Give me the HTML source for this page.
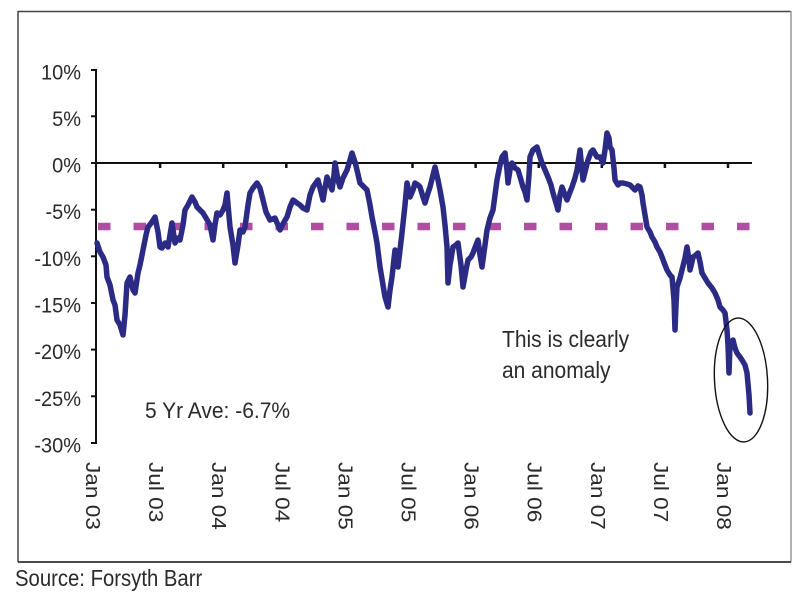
<!DOCTYPE html>
<html>
<head>
<meta charset="utf-8">
<style>
html,body{margin:0;padding:0;background:#fff;}
svg{display:block;}
text{font-family:"Liberation Sans",Arial,sans-serif;fill:#2a2a2a;}
</style>
</head>
<body>
<svg width="800" height="598" viewBox="0 0 800 598" xmlns="http://www.w3.org/2000/svg">
<rect x="0" y="0" width="800" height="598" fill="#fff"/>
<!-- frame -->
<line x1="18" y1="11.5" x2="791" y2="11.5" stroke="#444" stroke-width="1.5"/>
<line x1="18" y1="11" x2="18" y2="562" stroke="#444" stroke-width="1.5"/>
<line x1="791" y1="11" x2="791" y2="562" stroke="#999" stroke-width="1.5"/>
<line x1="18" y1="562" x2="791" y2="562" stroke="#333" stroke-width="1.8"/>

<!-- y axis -->
<line x1="96" y1="69" x2="96" y2="444" stroke="#111" stroke-width="2"/>
<g stroke="#111" stroke-width="2">
<line x1="91" y1="70" x2="96" y2="70"/>
<line x1="91" y1="116.3" x2="96" y2="116.3"/>
<line x1="91" y1="163" x2="96" y2="163"/>
<line x1="91" y1="209.7" x2="96" y2="209.7"/>
<line x1="91" y1="256.3" x2="96" y2="256.3"/>
<line x1="91" y1="303" x2="96" y2="303"/>
<line x1="91" y1="349.6" x2="96" y2="349.6"/>
<line x1="91" y1="396.3" x2="96" y2="396.3"/>
<line x1="91" y1="443" x2="96" y2="443"/>
</g>
<g font-size="20" text-anchor="end">
<text transform="translate(81,79.5) scale(1,1.06)">10%</text>
<text transform="translate(81,125.8) scale(1,1.06)">5%</text>
<text transform="translate(81,172.5) scale(1,1.06)">0%</text>
<text transform="translate(81,219.2) scale(1,1.06)">-5%</text>
<text transform="translate(81,265.8) scale(1,1.06)">-10%</text>
<text transform="translate(81,312.5) scale(1,1.06)">-15%</text>
<text transform="translate(81,359.1) scale(1,1.06)">-20%</text>
<text transform="translate(81,405.8) scale(1,1.06)">-25%</text>
<text transform="translate(81,452.5) scale(1,1.06)">-30%</text>
</g>

<!-- zero line -->
<line x1="96" y1="163" x2="752" y2="163" stroke="#111" stroke-width="2"/>
<g stroke="#111" stroke-width="2.5">
<line x1="160.1" y1="163" x2="160.1" y2="168"/>
<line x1="223.2" y1="163" x2="223.2" y2="168"/>
<line x1="286.3" y1="163" x2="286.3" y2="168"/>
<line x1="349.4" y1="163" x2="349.4" y2="168"/>
<line x1="412.5" y1="163" x2="412.5" y2="168"/>
<line x1="475.6" y1="163" x2="475.6" y2="168"/>
<line x1="538.7" y1="163" x2="538.7" y2="168"/>
<line x1="601.8" y1="163" x2="601.8" y2="168"/>
<line x1="664.9" y1="163" x2="664.9" y2="168"/>
<line x1="728" y1="163" x2="728" y2="168"/>
</g>

<!-- x labels rotated -->
<g font-size="20">
<text transform="translate(86,462) rotate(90) scale(1.13,1)">Jan 03</text>
<text transform="translate(149.1,462) rotate(90) scale(1.13,1)">Jul 03</text>
<text transform="translate(212.2,462) rotate(90) scale(1.13,1)">Jan 04</text>
<text transform="translate(275.3,462) rotate(90) scale(1.13,1)">Jul 04</text>
<text transform="translate(338.4,462) rotate(90) scale(1.13,1)">Jan 05</text>
<text transform="translate(401.5,462) rotate(90) scale(1.13,1)">Jul 05</text>
<text transform="translate(464.6,462) rotate(90) scale(1.13,1)">Jan 06</text>
<text transform="translate(527.7,462) rotate(90) scale(1.13,1)">Jul 06</text>
<text transform="translate(590.8,462) rotate(90) scale(1.13,1)">Jan 07</text>
<text transform="translate(653.9,462) rotate(90) scale(1.13,1)">Jul 07</text>
<text transform="translate(717,462) rotate(90) scale(1.13,1)">Jan 08</text>
</g>

<!-- average dashed line -->
<line x1="98" y1="226.5" x2="750" y2="226.5" stroke="#b04ea4" stroke-width="7.5" stroke-dasharray="12.5 23"/>

<!-- series -->
<polyline fill="none" stroke="#2b2b85" stroke-width="5.5" stroke-linejoin="round" stroke-linecap="round" points="
97,243 100,252 103,257 106,265 107,277 110,285 113,300 115,305 117,320 120,325 123,335 125,315 127,283 130,277 133,290 135,293 138,273 140,265 143,250 146,235 148,227 152,222 155,217 158,232 160,247 162,248 165,243 168,247 170,235 172,223 175,243 178,238 180,240 183,225 185,210 188,205 192,197 195,202 197,207 200,210 203,213 206,218 210,225 213,240 215,225 217,213 220,215 223,210 225,205 227,193 230,227 233,245 235,263 238,245 240,230 243,232 245,227 248,205 250,193 253,188 257,183 260,188 263,200 266,212 270,220 275,218 280,230 284,222 287,217 290,207 293,200 297,203 300,205 303,208 307,210 310,195 313,187 318,180 321,192 323,200 325,188 327,177 330,185 332,190 334,175 335,163 338,180 340,187 343,178 347,170 350,160 352,153 355,162 357,170 360,183 363,186 367,190 370,205 372,217 375,232 377,243 380,267 383,285 385,297 388,307 390,290 392,277 395,250 398,267 400,250 402,233 405,205 407,183 410,197 413,190 415,183 418,185 420,187 423,197 425,203 428,193 430,187 433,175 435,167 438,180 440,190 443,207 445,225 447,247 448,283 450,265 453,247 456,245 458,243 461,265 463,287 466,270 468,260 471,257 473,253 476,245 478,240 480,255 482,267 485,245 487,230 490,218 493,210 495,195 497,180 500,165 502,157 505,153 507,170 508,183 510,170 512,163 515,168 518,170 521,180 523,187 525,192 527,200 529,175 530,157 533,150 537,147 540,157 542,163 545,170 548,177 551,185 553,193 556,203 558,210 560,195 562,187 565,195 567,200 570,192 572,187 575,178 577,170 580,150 583,180 586,168 588,160 591,152 593,150 597,157 600,157 603,163 605,150 607,133 609,138 610,147 612,150 614,168 615,180 618,185 620,183 623,183 627,184 630,185 633,188 635,190 638,186 640,187 642,195 643,203 645,215 647,227 650,232 652,237 655,242 657,247 660,252 662,257 665,265 667,270 670,275 672,277 674,300 675,330 676,305 677,287 680,278 682,270 685,258 687,247 689,260 690,270 692,262 693,257 696,255 698,253 700,262 702,273 705,278 708,283 712,288 715,293 718,300 720,307 723,310 725,313 727,330 728,345 729,373 730,345 733,340 735,348 737,353 740,357 742,360 745,365 747,373 749,395 750,413"/>

<!-- ellipse annotation -->
<ellipse cx="741" cy="380" rx="26.5" ry="62" fill="none" stroke="#111" stroke-width="1.4" transform="rotate(-3 741 380)"/>

<!-- annotations -->
<g font-size="21">
<text transform="translate(502,347) scale(1,1.12)">This is clearly</text>
<text transform="translate(502,378) scale(1,1.12)">an anomaly</text>
<text transform="translate(145,418) scale(1,1.05)">5 Yr Ave: -6.7%</text>
</g>
<text font-size="20.3" transform="translate(15,586) scale(1,1.12)">Source: Forsyth Barr</text>
</svg>
</body>
</html>
